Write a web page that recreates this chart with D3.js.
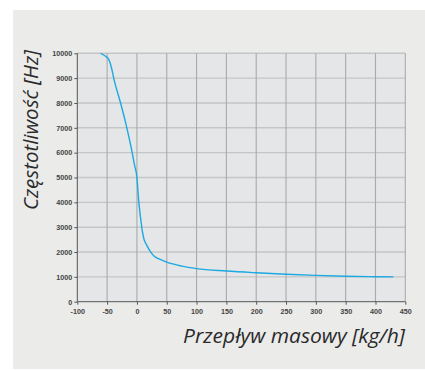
<!DOCTYPE html>
<html>
<head>
<meta charset="utf-8">
<script src="https://cdn.jsdelivr.net/npm/d3@7"></script>
<style>
  html, body { margin: 0; padding: 0; background: #ffffff; }
  svg { display: block; }
</style>
</head>
<body>
<svg id="chart" width="425" height="370"></svg>
<script>
// Mass flow [kg/h] vs frequency [Hz]
const flow = [-61, -52, -47, -43, -38, -28, -18, -10, -4, 0, 3, 6, 9, 12, 16, 22, 29, 40, 50, 75, 100, 150, 200, 250, 300, 350, 400, 430];
const freq = [10000, 9870, 9740, 9450, 8900, 8050, 7110, 6240, 5500, 5000, 4050, 3400, 2850, 2500, 2300, 2040, 1830, 1690, 1590, 1430, 1330, 1235, 1165, 1105, 1060, 1025, 1005, 1000];
const xTicks = [-100, -50, 0, 50, 100, 150, 200, 250, 300, 350, 400, 450];
const yTicks = [0, 1000, 2000, 3000, 4000, 5000, 6000, 7000, 8000, 9000, 10000];
const xTitle = "Przepływ masowy [kg/h]";
const yTitle = "Częstotliwość [Hz]";

const svg = d3.select("#chart");
const W = 425, H = 370;
const plot = { left: 77.3, right: 405.3, top: 53.3, bottom: 301.7 };

// outer panel
svg.append("rect").attr("x", 13).attr("y", 10).attr("width", W - 13).attr("height", 359)
  .attr("fill", "#ebebea");

const x = d3.scaleLinear().domain([-100, 450]).range([plot.left, plot.right]);
const y = d3.scaleLinear().domain([0, 10000]).range([plot.bottom, plot.top]);

// plot area
svg.append("rect")
  .attr("x", plot.left).attr("y", plot.top)
  .attr("width", plot.right - plot.left).attr("height", plot.bottom - plot.top)
  .attr("fill", "#e5e6e8");

// horizontal grid
svg.append("g").selectAll("line").data(yTicks.filter(d => d > 0)).join("line")
  .attr("x1", plot.left).attr("x2", plot.right)
  .attr("y1", d => y(d)).attr("y2", d => y(d))
  .attr("stroke", "#c4c5c8").attr("stroke-width", 1.4);

// vertical grid
svg.append("g").selectAll("line").data(xTicks.filter(d => d > -100)).join("line")
  .attr("x1", d => x(d)).attr("x2", d => x(d))
  .attr("y1", plot.top).attr("y2", plot.bottom)
  .attr("stroke", "#a9aaad").attr("stroke-width", 1.1);

// axes
const tickFont = "Liberation Sans, Arial, sans-serif";
const plain = d => String(d).replace("\u2212", "-");
const gx = svg.append("g").attr("transform", `translate(0,${plot.bottom})`)
  .call(d3.axisBottom(x).tickValues(xTicks).tickFormat(plain).tickSize(3).tickPadding(4));
const gy = svg.append("g").attr("transform", `translate(${plot.left},0)`)
  .call(d3.axisLeft(y).tickValues(yTicks).tickFormat(plain).tickSize(3).tickPadding(2));
[gx, gy].forEach(g => {
  g.selectAll(".tick line").attr("stroke", "#555").attr("stroke-width", 1);
  g.selectAll(".tick text").attr("fill", "#444").attr("font-size", 7.2)
    .attr("font-family", tickFont).attr("font-weight", "bold");
});
gx.select(".domain").remove();
gx.append("line").attr("x1", plot.left).attr("x2", plot.right).attr("stroke", "#555");
gy.select(".domain").remove();
gy.append("line").attr("y1", plot.top).attr("y2", plot.bottom).attr("stroke", "#555");

// curve
const pts = flow.map((f, i) => [f, freq[i]]);
svg.append("path").datum(pts)
  .attr("fill", "none").attr("stroke", "#1ba9e1").attr("stroke-width", 1.4)
  .attr("d", d3.line().x(d => x(d[0])).y(d => y(d[1])).curve(d3.curveMonotoneX));

// titles
const titleFont = "'Open Sans', 'Noto Sans', sans-serif";
svg.append("text")
  .attr("x", 405).attr("y", 343)
  .attr("text-anchor", "end")
  .attr("font-family", titleFont).attr("font-style", "italic")
  .attr("font-size", 20.5).attr("fill", "#2a2a2a")
  .attr("textLength", 222).attr("lengthAdjust", "spacingAndGlyphs")
  .text(xTitle);

svg.append("text")
  .attr("transform", "translate(38,50) rotate(-90)")
  .attr("text-anchor", "end")
  .attr("font-family", titleFont).attr("font-style", "italic")
  .attr("font-size", 20.5).attr("fill", "#2a2a2a")
  .attr("textLength", 160).attr("lengthAdjust", "spacingAndGlyphs")
  .text(yTitle);
</script>
</body>
</html>
